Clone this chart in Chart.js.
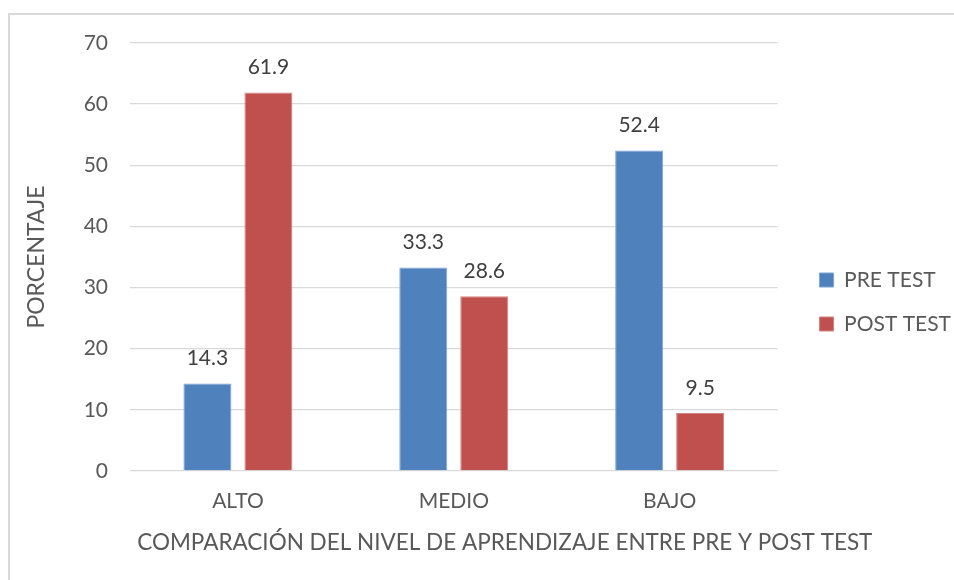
<!DOCTYPE html>
<html><head><meta charset="utf-8">
<script src="https://cdn.jsdelivr.net/npm/chart.js@4/dist/chart.umd.min.js"></script>
<style>
html,body{margin:0;padding:0;background:#fff;}
#wrap{position:relative;width:954px;height:580px;overflow:hidden;background:#fff;}
#frame{position:absolute;left:8px;top:13px;width:1000px;height:1000px;border-top:2px solid #d9d9d9;border-left:2px solid #d9d9d9;}
canvas{position:absolute;left:0;top:0;}
</style></head><body>
<div id="wrap"><div id="frame"></div><canvas id="c" width="954" height="580"></canvas></div>
<script>
const categories = ['ALTO', 'MEDIO', 'BAJO'];
const seriesNames = ['PRE TEST', 'POST TEST'];
const preTest = [14.3, 33.3, 52.4];
const postTest = [61.9, 28.6, 9.5];
const yTickValues = [0, 10, 20, 30, 40, 50, 60, 70];
const yTitle = 'PORCENTAJE';
const xTitle = 'COMPARACIÓN DEL NIVEL DE APRENDIZAJE ENTRE PRE Y POST TEST';

const FONT = 'Lato';

const barLabels = {
  id: 'barLabels',
  afterDatasetsDraw(chart) {
    const ctx = chart.ctx;
    ctx.save();
    ctx.font = '21px ' + FONT;
    ctx.fillStyle = '#404040';
    ctx.textAlign = 'center';
    ctx.textBaseline = 'middle';
    chart.data.datasets.forEach((ds, i) => {
      chart.getDatasetMeta(i).data.forEach((bar, j) => {
        ctx.fillText(ds.data[j].toFixed(1), bar.x, bar.y - 25);
      });
    });
    ctx.restore();
  }
};

// x-axis title drawn without the scale's width squeeze (it is wider than the plot)
const xAxisTitle = {
  id: 'xAxisTitle',
  afterDraw(chart) {
    const xs = chart.scales.x;
    const ctx = chart.ctx;
    ctx.save();
    ctx.font = '22.5px ' + FONT;
    ctx.fillStyle = '#595959';
    ctx.textAlign = 'center';
    ctx.textBaseline = 'middle';
    ctx.fillText(xTitle, (xs.left + xs.right) / 2 + 51, xs.bottom - 18);
    ctx.restore();
  }
};

const shiftLegend = {
  id: 'shiftLegend',
  afterLayout(chart) {
    if (chart.legend) { chart.legend.left += 19; chart.legend.right += 19; }
  }
};

new Chart(document.getElementById('c'), {
  type: 'bar',
  data: {
    labels: categories,
    datasets: [
      { label: seriesNames[0], data: preTest, backgroundColor: '#4F81BD', borderColor: '#7FA3D0', borderWidth: 1, categoryPercentage: 0.565, barPercentage: 0.787 },
      { label: seriesNames[1], data: postTest, backgroundColor: '#C0504D', borderColor: '#D48381', borderWidth: 1, categoryPercentage: 0.565, barPercentage: 0.787 }
    ]
  },
  options: {
    responsive: false,
    animation: false,
    devicePixelRatio: 1,
    layout: { padding: { top: 43, left: 10, right: 12, bottom: 19 } },
    plugins: {
      legend: {
        position: 'right',
        labels: { font: { family: FONT, size: 21 }, color: '#595959', boxWidth: 14, boxHeight: 14, padding: 23 }
      },
      tooltip: { enabled: false }
    },
    scales: {
      y: {
        min: 0, max: 70,
        afterBuildTicks(scale) { scale.ticks = yTickValues.map(v => ({ value: v })); },
        afterFit(scale) { scale.width = 120; },
        ticks: { font: { family: FONT, size: 21 }, color: '#595959', padding: 22 },
        grid: { color: '#d9d9d9', lineWidth: 1.3, drawTicks: false },
        border: { display: false },
        title: { display: true, text: yTitle, font: { family: FONT, size: 23 }, color: '#595959', padding: { top: 13, bottom: 0 } }
      },
      x: {
        afterFit(scale) { scale.height = 90; },
        ticks: { font: { family: FONT, size: 21 }, color: '#595959', padding: 18 },
        grid: { display: false, drawTicks: false },
        border: { display: false },
        title: { display: false }
      }
    }
  },
  plugins: [barLabels, xAxisTitle, shiftLegend]
});
</script>
</body></html>
